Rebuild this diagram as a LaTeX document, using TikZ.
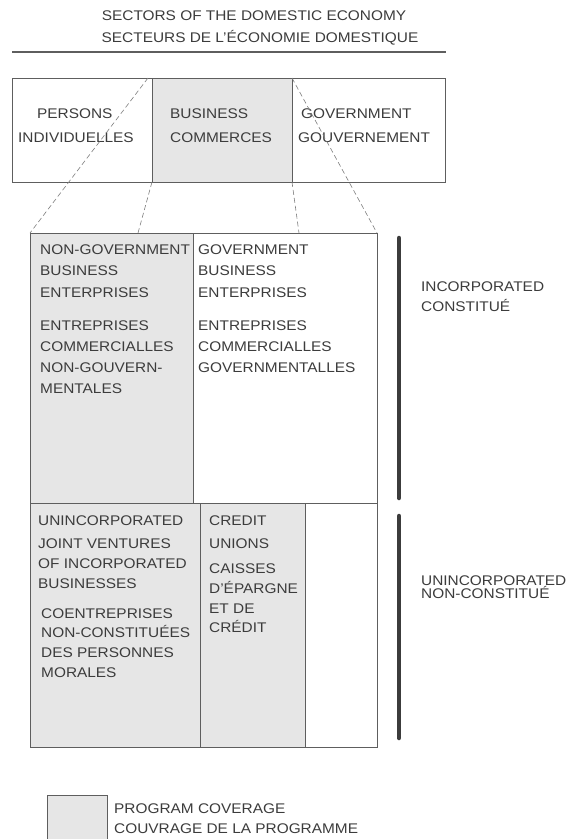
\documentclass[tikz,border=0pt]{standalone}
\usepackage{fontspec}
\setmainfont{Liberation Sans}[FakeStretch=1.1]
\usetikzlibrary{calc}
\begin{document}
\begin{tikzpicture}[x=1pt,y=-1pt,
  txt/.style={anchor=base west,inner sep=0pt,text=ink,font=\fontsize{14}{17}\selectfont},
  ctxt/.style={anchor=base,inner sep=0pt,text=ink,font=\fontsize{14}{17}\selectfont},
  boxline/.style={draw=edge,line width=0.9pt},
  shade/.style={fill=shadegray},
  guide/.style={draw=edge!80,line width=0.6pt,dash pattern=on 5pt off 3pt},
  bar/.style={draw=ink,line width=4.5pt,line cap=round}]
\definecolor{ink}{HTML}{3C3C3C}
\definecolor{edge}{HTML}{5E5E5E}
\definecolor{shadegray}{HTML}{E6E6E6}
\useasboundingbox (0,0) rectangle (568,839);
\fill[white] (0,0) rectangle (568,839);
% title
\node[ctxt] (t1) at (254,20) {SECTORS OF THE DOMESTIC ECONOMY};
\node[ctxt] (t2) at (260,42) {SECTEURS DE L'ÉCONOMIE DOMESTIQUE};
\draw[draw=edge,line width=1.8pt] (12,52) coordinate (r1) -- (446,52) coordinate (r2);
% top sectors
\path[shade] (152,78) rectangle (292,182);
\draw[boxline] (12,78) rectangle (445,182);
\draw[boxline] (152,78) coordinate (bTL) -- (152,182) coordinate (bBL);
\draw[boxline] (292,78) coordinate (bTR) -- (292,182) coordinate (bBR);
\node[txt] (p1) at (37,118) {PERSONS};
\node[txt] (p2) at (18,142) {INDIVIDUELLES};
\node[txt] (b1) at (170,118) {BUSINESS};
\node[txt] (b2) at (170,142) {COMMERCES};
\node[txt] (g1) at (301,118) {GOVERNMENT};
\node[txt] (g2) at (298,142) {GOUVERNEMENT};
% lower big box
\path[shade] (30,233) rectangle (193,503);
\path[shade] (30,503) rectangle (305,747);
\draw[boxline] (30,233) coordinate (lTL) rectangle (377,747);
\coordinate (lTR) at (377,233);
\coordinate (m1) at (138,233);
\coordinate (m2) at (299,233);
\draw[boxline] (30,503) -- (377,503);
\draw[boxline] (193,233) -- (193,503);
\draw[boxline] (200,503) -- (200,747);
\draw[boxline] (305,503) -- (305,747);
% dashed guides
\draw[guide] ($(bTL)+(-4,0)$) -- (lTL);
\draw[guide] (bBL) -- (m1);
\draw[guide] (bBR) -- (m2);
\draw[guide] (bTR) -- (lTR);
% incorporated texts
\foreach \n/\yy/\s in {a1/254/NON-GOVERNMENT,a2/275/BUSINESS,a3/297/ENTERPRISES,a4/330/ENTREPRISES,a5/351/COMMERCIALLES,a6/372/NON-GOUVERN-,a7/393/MENTALES}
  \node[txt] (\n) at (40,\yy) {\s};
\foreach \n/\yy/\s in {c1/254/GOVERNMENT,c2/275/BUSINESS,c3/297/ENTERPRISES,c4/330/ENTREPRISES,c5/351/COMMERCIALLES,c6/372/GOVERNMENTALLES}
  \node[txt] (\n) at (198,\yy) {\s};
% unincorporated texts
\foreach \n/\yy/\s in {u1/525/UNINCORPORATED,u2/548/JOINT VENTURES,u3/568/OF INCORPORATED,u4/588/BUSINESSES}
  \node[txt] (\n) at (38,\yy) {\s};
\foreach \n/\yy/\s in {v1/618/COENTREPRISES,v2/637/NON-CONSTITUÉES,v3/657/DES PERSONNES,v4/677/MORALES}
  \node[txt] (\n) at (41,\yy) {\s};
\foreach \n/\yy/\s in {w1/525/CREDIT,w2/548/UNIONS,w3/573/CAISSES,w4/593/D'ÉPARGNE,w5/613/ET DE,w6/632/CRÉDIT}
  \node[txt] (\n) at (209,\yy) {\s};
% bars and labels
\draw[bar] (399,238) coordinate (i1) -- (399,498) coordinate (i2);
\draw[bar] (399,516) coordinate (j1) -- (399,738) coordinate (j2);
\node[txt] (L1) at (421,291) {INCORPORATED};
\node[txt] (L2) at (421,311) {CONSTITUÉ};
\node[txt] (L3) at (421,585) {UNINCORPORATED};
\node[txt] (L4) at (421,598) {NON-CONSTITUÉ};
% legend
\path[shade] (47,795) rectangle (107,845);
\draw[boxline] (47,845) -- (47,795) -- (107,795) -- (107,845);
\node[txt] (k1) at (114,813) {PROGRAM COVERAGE};
\node[txt] (k2) at (114,833) {COUVRAGE DE LA PROGRAMME};
\end{tikzpicture}
\end{document}
